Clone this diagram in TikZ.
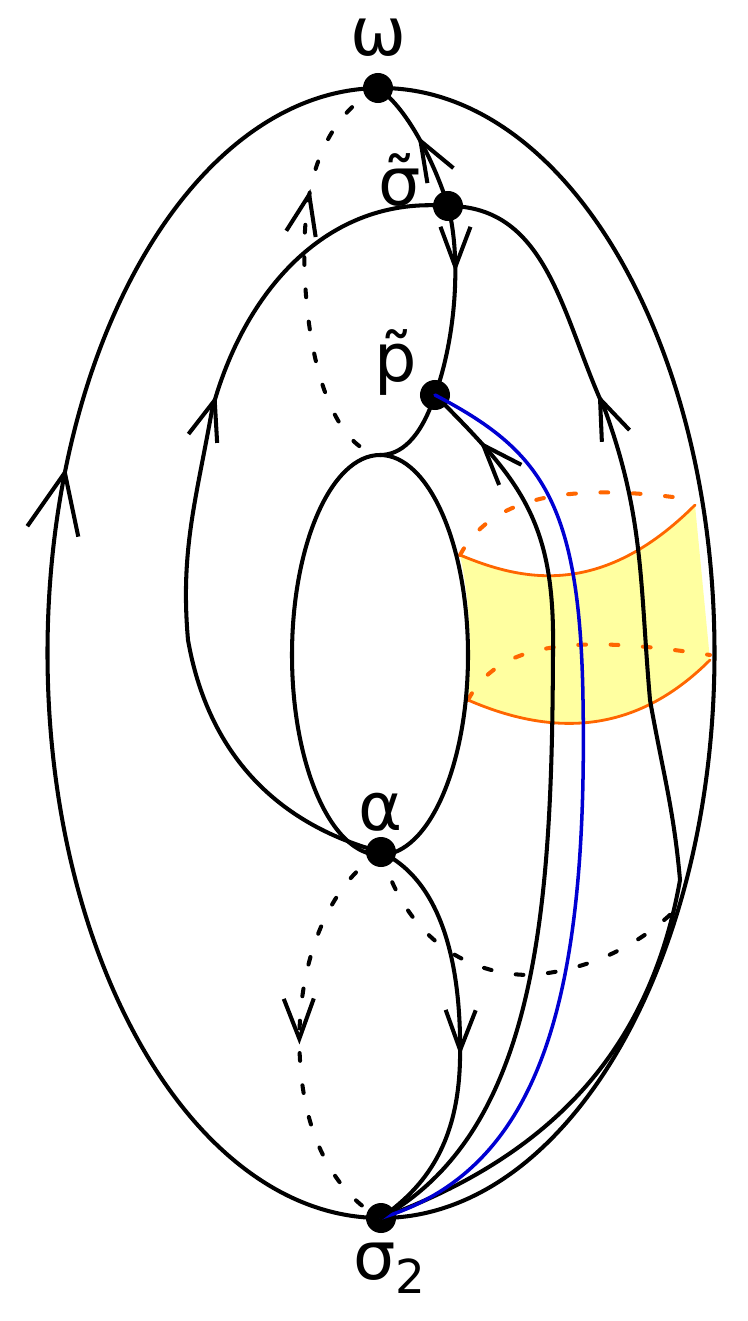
\documentclass[tikz,border=0pt]{standalone}
\usepackage{fontspec}
\setmainfont{DejaVu Sans}
\usetikzlibrary{arrows.meta,decorations.markings}
\definecolor{bandyellow}{RGB}{255,255,160}
\definecolor{bandorange}{RGB}{255,102,0}
\definecolor{pathblue}{RGB}{0,0,210}
\tikzset{
  curve/.style={line width=1.15pt},
  back/.style={curve, dash pattern=on 2.2pt off 7pt},
  dot/.style={circle, fill, inner sep=0pt, minimum size=0.3cm},
  lbl/.style={font=\fontsize{19}{21}\selectfont},
  fwd/.style={postaction={decorate}, decoration={markings,
      mark=at position #1 with {\arrow{Straight Barb[length=0.4cm,width=0.3cm,line width=1.15pt]}}}},
  rev/.style={postaction={decorate}, decoration={markings,
      mark=at position #1 with {\arrowreversed{Straight Barb[length=0.4cm,width=0.3cm,line width=1.15pt]}}}},
  bigfwd/.style={postaction={decorate}, decoration={markings,
      mark=at position #1 with {\arrow{Straight Barb[length=0.6cm,width=0.52cm,line width=1.15pt]}}}},
}
\begin{document}
\begin{tikzpicture}[x=0.01cm, y=0.01cm, line join=round, line cap=round]
  \useasboundingbox (0,0) rectangle (747,-1321);

  % band on the right
  \fill[bandyellow] (460,-555) .. controls (520,-580) and (600,-600) .. (695,-505)
      -- (710,-660) .. controls (640,-730) and (560,-740) .. (468,-700)
      .. controls (472,-650) and (470,-600) .. cycle;
  \draw[bandorange, line width=0.8pt] (460,-555) .. controls (520,-580) and (600,-600) .. (695,-505);
  \draw[bandorange, line width=0.8pt] (468,-700) .. controls (560,-740) and (640,-730) .. (710,-660);
  \draw[bandorange, back] (460,-555) .. controls (490,-500) and (560,-480) .. (695,-500);
  \draw[bandorange, back] (468,-700) .. controls (500,-640) and (580,-635) .. (710,-655);

  \node[dot] (w) at (378,-88) {};
  \node[dot] (st) at (448,-206) {};
  \node[dot] (pt) at (435,-395) {};
  \node[dot] (al) at (381,-852) {};
  \node[dot] (s2) at (381,-1218) {};
  \coordinate (top) at (380,-455);
  \coordinate (rgt) at (675,-910);

  \node[lbl] (lw) at (378,-38) {ω};
  \node[lbl] (lst) at (400,-180) {σ̃};
  \node[lbl] (lpt) at (396,-362) {p̃};
  \node[lbl] (lal) at (381,-812) {α};
  \node[lbl] (ls2) at (390,-1268) {σ\textsubscript{2}};

  % torus
  \draw[curve, bigfwd=0.63] (s2.center) arc[start angle=270, end angle=90, x radius=333.5, y radius=565];
  \draw[curve] (s2.center) arc[start angle=-90, end angle=90, x radius=333.5, y radius=565];
  \draw[curve] (380,-655) ellipse[x radius=88, y radius=200];

  % front edges
  \draw[curve, fwd=0.55] (st.center) .. controls (437,-170) and (410,-110) .. (w.center);
  \draw[curve, fwd=0.35] (st.center) .. controls (462,-260) and (455,-340) .. (pt.center);
  \draw[curve] (pt.center) .. controls (420,-440) and (400,-455) .. (top);
  \draw[curve, fwd=0.63] (al.center) to[out=165,in=-80] (188,-640) to[out=95,in=-100] (212,-410) to[out=75,in=175] (st.center);
  \draw[curve, rev=0.21] (st.center) to[out=0,in=115] (605,-410) to[out=-70,in=95] (650,-700)
      to[out=-80,in=95] (680,-880) to[out=-100,in=20] (s2.center);
  \draw[curve, rev=0.07] (pt.center) .. controls (520,-480) and (555,-520) .. (553,-650)
      .. controls (552,-900) and (540,-1130) .. (s2.center);
  \draw[pathblue, line width=1pt] (pt.center) .. controls (540,-450) and (580,-500) .. (583,-700)
      .. controls (588,-1000) and (540,-1170) .. (s2.center);
  \draw[curve, fwd=0.55] (al.center) .. controls (440,-880) and (462,-960) .. (460,-1060)
      .. controls (458,-1150) and (420,-1190) .. (s2.center);

  % hidden edges
  \draw[back, rev=0.3] (w.center) .. controls (320,-120) and (300,-190) .. (305,-280)
      .. controls (310,-380) and (340,-450) .. (top);
  \draw[back, fwd=0.52] (al.center) .. controls (320,-890) and (295,-980) .. (300,-1060)
      .. controls (305,-1150) and (345,-1200) .. (s2.center);
  \draw[back] (al.center) .. controls (410,-950) and (480,-975) .. (530,-975)
      .. controls (600,-970) and (650,-935) .. (rgt);
\end{tikzpicture}
\end{document}
